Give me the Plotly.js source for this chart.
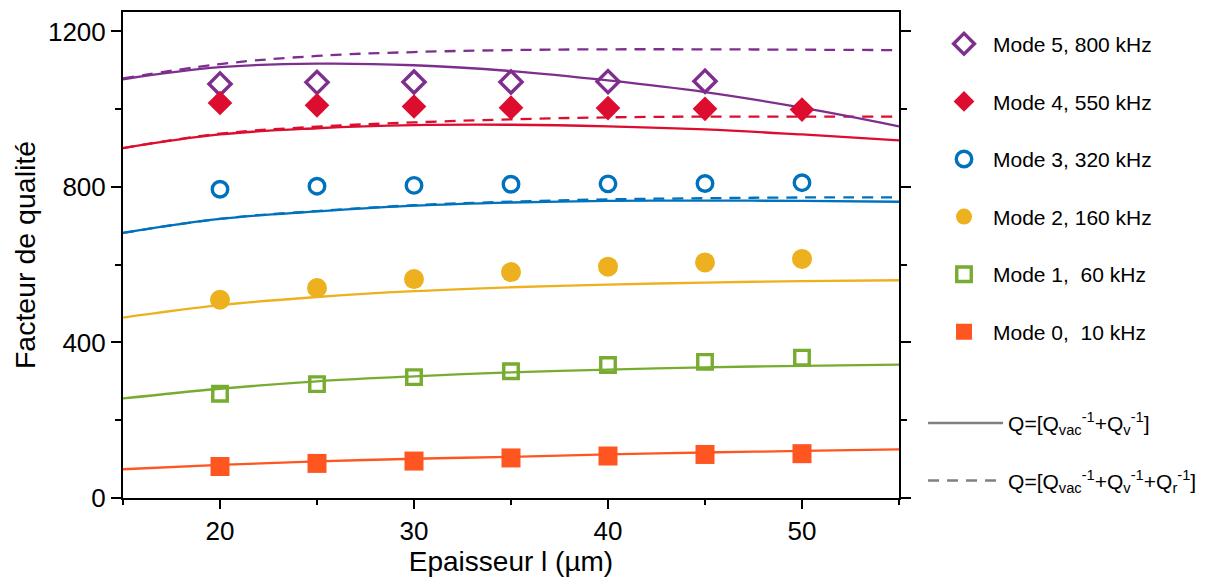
<!DOCTYPE html>
<html>
<head>
<meta charset="utf-8">
<script src="https://cdn.plot.ly/plotly-3.0.1.min.js"></script>
<style>html,body{margin:0;padding:0;background:#fff;}#chart{width:1215px;height:579px;}</style>
</head>
<body>
<div id="chart"></div>
<script>
// ---- data ----
const thickness = [20, 25, 30, 35, 40, 45, 50];
const thicknessMode5 = [20, 25, 30, 35, 40, 45];
const mode5 = [1065, 1069, 1070, 1070, 1071, 1072];
const mode4 = [1016, 1010, 1007, 1004, 1003, 1001, 999];
const mode3 = [794, 802, 804, 807, 808, 809, 811];
const mode2 = [510, 540, 563, 581, 595, 606, 615];
const mode1 = [268, 293, 311, 326, 342, 350, 361];
const mode0 = [81, 89, 95, 103, 108, 112, 114];

const modelX = [15, 20, 25, 30, 35, 40, 45, 50, 55];
const model5 = [1077, 1108, 1117, 1113, 1098, 1074, 1044, 1004, 956];
const model5r = [1079, 1116, 1137, 1147, 1152, 1154, 1154, 1153, 1152];
const model4 = [900, 935, 951, 959, 960, 956, 948, 935, 920];
const model4r = [900, 937, 955, 966, 974, 979, 981, 981, 981];
const model3 = [682, 718, 737, 752, 760, 764, 765, 764, 762];
const model3r = [682, 718, 738, 753, 762, 768, 771, 773, 773];
const model2 = [464, 496, 517, 532, 542, 549, 554, 558, 560];
const model1 = [256, 281, 300, 313, 323, 330, 336, 340, 343];
const model0 = [74, 85, 94, 101, 106, 112, 117, 121, 125];

const modeNames = ['Mode 5, 800 kHz', 'Mode 4, 550 kHz', 'Mode 3, 320 kHz', 'Mode 2, 160 kHz', 'Mode 1,  60 kHz', 'Mode 0,  10 kHz'];
const modelNames = ['Q=[Q<sub>vac</sub><sup>-1</sup>+Q<sub>v</sub><sup>-1</sup>]',
                    'Q=[Q<sub>vac</sub><sup>-1</sup>+Q<sub>v</sub><sup>-1</sup>+Q<sub>r</sub><sup>-1</sup>]'];

// ---- styles ----
const C5 = '#7E2F8E', C4 = '#DC0D2E', C3 = '#0072BD', C2 = '#EDB120', C1 = '#77AC30', C0 = '#FF5520';
const LW = 2.3;
const DASH = '11px,8px';
const FONT = 'Liberation Sans, Arial, Helvetica, sans-serif';

function curve(y, color, dash) {
  return {x: modelX, y: y, mode: 'lines', type: 'scatter', showlegend: false, hoverinfo: 'skip',
          line: {color: color, width: LW, dash: dash || 'solid', shape: 'spline', smoothing: 1.1}};
}
function pts(x, y, name, symbol, color, size, open) {
  return {x: x, y: y, mode: 'markers', type: 'scatter', name: name + '<br> ', legend: 'legend',
          marker: {symbol: symbol, size: size, color: color,
                   line: {color: color, width: open ? 3.4 : 0}}};
}

const traces = [
  curve(model0, C0), curve(model1, C1), curve(model2, C2),
  curve(model3r, C3, DASH), curve(model3, C3),
  curve(model4r, C4, DASH), curve(model4, C4),
  curve(model5r, C5, DASH), curve(model5, C5),
  pts(thicknessMode5, mode5, modeNames[0], 'diamond-open', C5, 17, true),
  pts(thickness, mode4, modeNames[1], 'diamond', C4, 19, false),
  pts(thickness, mode3, modeNames[2], 'circle-open', C3, 15.5, true),
  pts(thickness, mode2, modeNames[3], 'circle', C2, 20, false),
  pts(thickness, mode1, modeNames[4], 'square-open', C1, 14.5, true),
  pts(thickness, mode0, modeNames[5], 'square', C0, 19, false),
  {x: [null], y: [null], mode: 'lines', type: 'scatter', name: modelNames[0] + '<br> ', legend: 'legend2',
   line: {color: '#808080', width: 2.5}},
  {x: [null], y: [null], mode: 'lines', type: 'scatter', name: modelNames[1] + '<br> ', legend: 'legend2',
   line: {color: '#808080', width: 2.5, dash: '11px,8px'}}
];

const legendFont = {family: FONT, size: 21, color: '#000'};
const layout = {
  width: 1215, height: 579,
  margin: {l: 123, r: 316, t: 12, b: 81},
  paper_bgcolor: '#fff', plot_bgcolor: '#fff',
  font: {family: FONT, color: '#000'},
  showlegend: true,
  xaxis: {
    range: [15, 55], tickvals: [20, 30, 40, 50], ticktext: ['20', '30', '40', '50'],
    ticks: 'outside', ticklen: 9, tickwidth: 2, tickcolor: '#000',
    minor: {tickvals: [15, 25, 35, 45, 55], ticks: 'outside', ticklen: 5, tickwidth: 2, tickcolor: '#000'},
    showline: true, linewidth: 2, linecolor: '#000', mirror: true,
    showgrid: false, zeroline: false,
    tickfont: {family: FONT, size: 26, color: '#000'},
    title: {text: 'Epaisseur l (µm)', font: {family: FONT, size: 28, color: '#000'}, standoff: 4}
  },
  yaxis: {
    range: [0, 1250], tickvals: [0, 400, 800, 1200], ticktext: ['0', '400', '800', '1200'],
    ticks: 'outside', ticklen: 10, tickwidth: 2, tickcolor: '#000',
    minor: {tickvals: [200, 600, 1000], ticks: 'outside', ticklen: 6, tickwidth: 2, tickcolor: '#000'},
    showline: true, linewidth: 2, linecolor: '#000', mirror: 'ticks',
    showgrid: false, zeroline: false,
    tickfont: {family: FONT, size: 26, color: '#000'},
    title: {text: 'Facteur de qualité', font: {family: FONT, size: 28.5, color: '#000'}, standoff: 4}
  },
  legend: {x: 1.0464, y: 0.976, xanchor: 'left', yanchor: 'top', font: legendFont,
           bgcolor: 'rgba(0,0,0,0)', borderwidth: 0, valign: 'top', itemwidth: 48, traceorder: 'normal'},
  legend2: {x: 1.031, y: 0.196, xanchor: 'left', yanchor: 'top', font: legendFont,
            bgcolor: 'rgba(0,0,0,0)', borderwidth: 0, valign: 'top', itemwidth: 75, traceorder: 'normal'}
};

Plotly.newPlot('chart', traces, layout, {displayModeBar: false, staticPlot: true});
</script>
</body>
</html>
